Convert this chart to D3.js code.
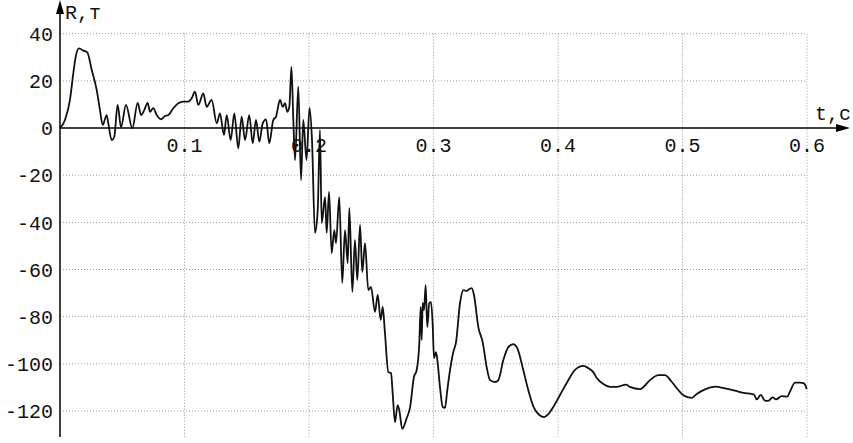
<!DOCTYPE html>
<html>
<head>
<meta charset="utf-8">
<script src="https://cdn.jsdelivr.net/npm/d3@7"></script>
<style>
  body { margin: 0; background: #fff; }
  text { font-family: "Liberation Mono", "DejaVu Sans Mono", monospace; font-size: 20px; fill: #111; }
</style>
</head>
<body>
<div id="chart"></div>
<script>
// t, c
let tValues = [0,0.004,0.008,0.0107,0.0126,0.0153,0.0187,0.0219,0.0255,0.0295,0.0321,0.0343,0.0375,0.0388,0.0415,0.0436,0.0463,0.049,0.053,0.0581,
  0.0624,0.0651,0.0677,0.0704,0.0723,0.0749,0.0777,0.0811,0.0843,0.087,0.091,0.095,0.099,0.103,0.1058,
  0.1084,0.1111,0.1151,0.1178,0.1218,0.1259,0.1285,0.1317,0.1339,0.1371,0.14,0.1432,0.1459,0.1486,0.152,0.1548,0.1574,0.1601,0.1628,0.1655,0.1681,0.1713,0.1735,0.1767,0.1789,0.1807,0.1826,0.1842,
  0.1859,0.1874,0.1888,0.1914,0.1936,0.1954,0.198,0.2004,0.2024,0.2048,0.207,0.2088,0.2102,0.2129,0.2142,0.2161,0.2182,0.2203,0.2217,0.2243,0.2267,0.2289,0.2311,0.2324,0.2348,0.2369,0.2388,0.241,0.2428,0.245,0.2476,0.2498,
  0.253,0.2552,0.2576,0.2592,0.261,0.2637,0.2659,0.2672,0.2691,0.2712,0.2725,0.2749,0.2785,0.2811,0.2843,0.2865,0.2886,0.2897,0.2905,0.2913,0.2924,0.2937,0.295,0.2966,0.298,0.2993,0.3004,0.302,0.3031,0.3052,0.3074,0.3092,0.3111,0.3133,0.3159,0.3181,0.3213,0.324,0.3267,0.3288,
  0.3307,0.3325,0.336,0.3395,0.3427,0.3454,0.3494,0.3521,0.3561,0.3601,0.3641,0.3673,0.3721,0.3761,0.3807,0.385,0.3888,0.3922,0.3962,0.4016,0.407,0.4137,0.4203,0.4243,0.4283,0.4311,0.4364,0.4418,0.4471,0.4546,0.4578,0.4659,
  0.4739,0.4806,0.4859,0.4913,0.4966,0.502,0.5074,0.5114,0.518,0.5261,0.5341,0.5422,0.5488,0.5556,0.5574,0.5596,0.5628,0.5663,0.5689,0.5724,0.5751,0.5797,0.5842,0.5863,0.5904,0.5944,0.5976,0.5998];
// R, т
let rValues = [0,3.4,11.9,23.3,30.2,33.8,32.8,32.1,24.6,16.1,7.6,1.3,5.5,2.0,-5.1,-3.7,9.8,0.3,9.8,-0.1,
  10.7,5.5,7.6,10.7,6.9,8.4,5.5,3.7,5.1,5.5,8.4,10.5,11.2,11.2,12.6,
  15.4,9.8,14.7,9.0,11.9,2.0,6.2,-3.0,5.5,-5.1,6.2,-8.6,4.8,-5.1,5.5,-6.5,3.4,-5.8,2.0,3.7,-6.5,3.4,4.8,11.9,9.0,10.5,6.9,9.0,
  25.9,3.4,-13.6,17.5,-22.1,3.4,-13.6,8.5,-5,-44.5,-34.8,-0.8,-40.3,-29.3,-44.5,-27.1,-53,-43.3,-48.8,-29.3,-65.7,-43.3,-57.3,-33.9,-69.5,-47.5,-64.5,-41.1,-61.1,-48.8,-68.7,-67.4,
  -78,-70.8,-81.4,-75.9,-86.9,-103.5,-103.9,-112.4,-124.7,-117.5,-119.6,-127.6,-123,-118.7,-105.6,-102.6,-91.2,-75.9,-89.9,-74.2,-77.2,-66.6,-84.4,-74.2,-73.8,-82.7,-97.5,-95,-98.4,-109.8,-118.3,-118.7,-111.1,-102.6,-95,-90.8,-74.2,-68.7,-69.1,-68.3,
  -67.9,-70.8,-84.4,-90.8,-101.4,-106.9,-107.7,-106.9,-98.4,-92.9,-91.6,-93.3,-102.6,-111.1,-118.7,-121.7,-122.6,-121.3,-118.3,-113.2,-108.1,-102.6,-100.9,-101.8,-103.5,-106,-108.6,-109.8,-109.8,-108.8,-109.8,-110.7,
  -106.9,-104.8,-104.8,-107.6,-111.1,-113.7,-114.4,-112.8,-110.8,-109.7,-110.4,-111.4,-112.3,-112.8,-113,-115.1,-113.2,-115.6,-115.7,-114.2,-115.1,-113.7,-113.9,-111.8,-108,-108,-108.3,-110.8];

let xTicks = [0.1, 0.2, 0.3, 0.4, 0.5, 0.6];
let yTicks = [40, 20, 0, -20, -40, -60, -80, -100, -120];

let width = 853, height = 443;

let x = d3.scaleLinear().domain([0, 0.6]).range([60, 807]);
let y = d3.scaleLinear().domain([-120, 40]).range([411, 33.7]);

let svg = d3.select("#chart").append("svg")
  .attr("width", width)
  .attr("height", height);

// grid
svg.append("g")
  .selectAll("line")
  .data(yTicks.filter(d => d != 0))
  .enter().append("line")
  .attr("x1", x(0)).attr("x2", x(0.6))
  .attr("y1", d => y(d)).attr("y2", d => y(d))
  .attr("stroke", "#9a9a9a").attr("stroke-width", 1).attr("stroke-dasharray", "1,2");

svg.append("g")
  .selectAll("line")
  .data(xTicks)
  .enter().append("line")
  .attr("x1", d => x(d)).attr("x2", d => x(d))
  .attr("y1", y(40)).attr("y2", 437)
  .attr("stroke", "#9a9a9a").attr("stroke-width", 1).attr("stroke-dasharray", "1,2");

// axes
svg.append("line")
  .attr("x1", x(0)).attr("x2", x(0))
  .attr("y1", 6).attr("y2", 437)
  .attr("stroke", "#000").attr("stroke-width", 1.5);
svg.append("path")
  .attr("d", "M" + x(0) + ",0 L" + (x(0) - 4) + ",14 L" + (x(0) + 4) + ",14 Z")
  .attr("fill", "#000");

svg.append("line")
  .attr("x1", x(0)).attr("x2", 842)
  .attr("y1", y(0)).attr("y2", y(0))
  .attr("stroke", "#000").attr("stroke-width", 1.5);
svg.append("path")
  .attr("d", "M850," + y(0) + " L836," + (y(0) - 4) + " L836," + (y(0) + 4) + " Z")
  .attr("fill", "#000");

// tick labels
svg.append("g")
  .selectAll("text")
  .data(xTicks)
  .enter().append("text")
  .attr("x", d => x(d))
  .attr("y", 152)
  .attr("text-anchor", "middle")
  .text(d => d3.format(".1f")(d));

svg.append("g")
  .selectAll("text")
  .data(yTicks)
  .enter().append("text")
  .attr("x", 53)
  .attr("y", d => y(d))
  .attr("dy", "0.36em")
  .attr("text-anchor", "end")
  .text(d => d);

svg.append("text").attr("x", 65).attr("y", 19).text("R,т");
svg.append("text").attr("x", 815).attr("y", 120).text("t,c");

// curve
let data = tValues.map((t, i) => ({ t: t, r: rValues[i] }));
let line = d3.line()
  .x(d => x(d.t))
  .y(d => y(d.r))
  .curve(d3.curveMonotoneX);

svg.append("path")
  .datum(data)
  .attr("d", line)
  .attr("fill", "none")
  .attr("stroke", "#111")
  .attr("stroke-width", 1.8)
  .attr("stroke-linejoin", "round");
</script>
</body>
</html>
